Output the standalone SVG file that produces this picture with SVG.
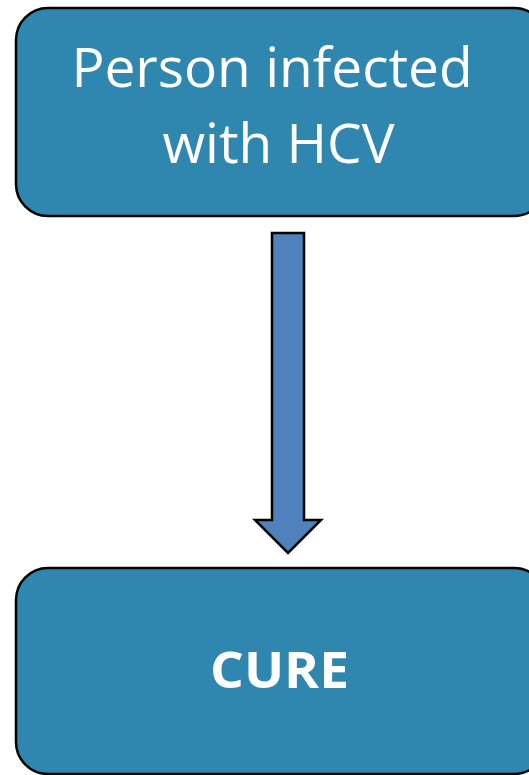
<svg xmlns="http://www.w3.org/2000/svg" width="529" height="775" viewBox="0 0 529 775">
<style>
.box{fill:#2F87AF;stroke:#000;stroke-width:2.5}
.t{font-family:"Open Sans","Noto Sans","Liberation Sans",sans-serif;fill:#fff;text-anchor:middle}
.arrow{fill:#4F81BD;stroke:#000;stroke-width:2.5;stroke-linejoin:miter}
</style>
<rect width="529" height="775" fill="#fff"/>
<g id="node-infected">
<rect class="box" x="16" y="8" width="530" height="208" rx="32" ry="32"/>
<text class="t" x="272" y="87" font-size="55">Person infected</text>
<text class="t" x="278.5" y="163" font-size="55">with HCV</text>
</g>
<g id="connectors">
<path class="arrow" d="M272 233 H304 V520 H321 L288 553 L255 520 H272 Z"/>
</g>
<g id="node-cure">
<rect class="box" x="16" y="568" width="530" height="206" rx="32" ry="32"/>
<text class="t" x="279.5" y="688" font-size="50" font-weight="bold" textLength="139" lengthAdjust="spacingAndGlyphs">CURE</text>
</g>
</svg>
